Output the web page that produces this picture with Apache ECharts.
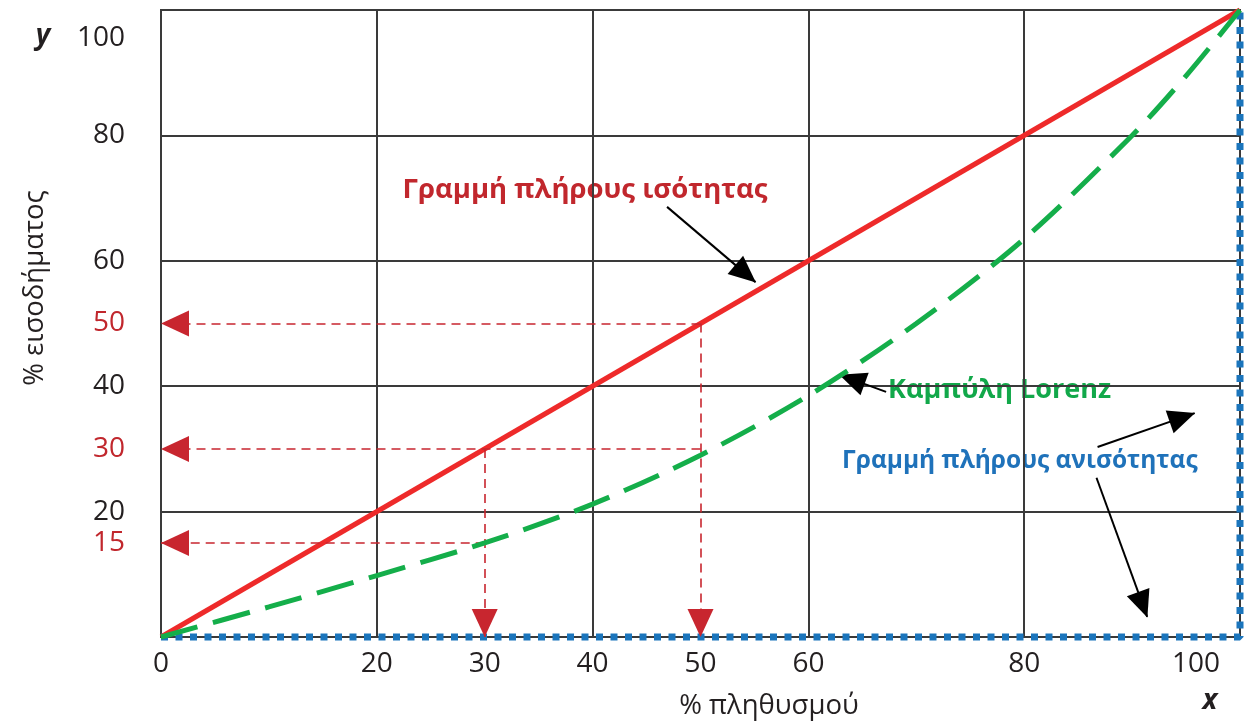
<!DOCTYPE html>
<html><head><meta charset="utf-8">
<script src="https://cdn.jsdelivr.net/npm/echarts@6/dist/echarts.min.js"></script>
<style>html,body{margin:0;padding:0;background:#fff}#c{width:1250px;height:724px}</style>
</head><body><div id="c"></div>
<script>
// ---- data ----
const populationPct   = [0, 10, 20, 30, 40, 50, 60, 70, 80, 90, 95, 100];
const lorenzIncomePct = [0, 4.8, 9.8, 15, 21.2, 29, 38.5, 50, 63.5, 80, 89.5, 100];
const equalityPop     = [0, 100];
const equalityIncome  = [0, 100];
const inequalityPop    = [0, 100, 100];
const inequalityIncome = [0, 0, 100];
const xTickLabels = [0, 20, 30, 40, 50, 60, 80, 100];
const yTickLabels = [15, 20, 30, 40, 50, 60, 80, 100];
const yHighlighted = [15, 30, 50];
const equalityReadings = [[30, 30], [50, 50]];   // [population, income] on equality line
const lorenzReadings   = [[30, 15], [50, 30]];   // [population, income] on Lorenz curve
// pointer arrows (tail -> tip) in data units
const pointerArrows = [
  [[46.9, 68.6], [55.1, 56.6]],
  [[67.2, 39.1], [62.9, 41.8]],
  [[86.8, 30.3], [95.8, 35.7]],
  [[86.7, 25.4], [91.4, 3.2]]
];

const FONT = '"Open Sans", "Noto Sans", sans-serif';
const INK = '#231f20';
const RED_TXT = '#c1272d';

const zip = (a, b) => a.map((v, i) => [v, b[i]]);

const guideLine = {color: '#c8262f', width: 1.6, type: [9, 6]};
const guideArrow = {symbol: 'triangle', symbolSize: [26, 28], symbolOffset: [0, 14]};
const guides = [];
[equalityReadings[1], ...lorenzReadings].forEach(([p, v]) => {
  guides.push([{coord: [p, v], symbol: 'none'}, Object.assign({coord: [0, v]}, guideArrow)]);
});
equalityReadings.forEach(([p, v]) => {
  guides.push([{coord: [p, v], symbol: 'none'}, Object.assign({coord: [p, 0]}, guideArrow)]);
});

const pointers = pointerArrows.map(([a, b]) => [
  {coord: a, symbol: 'none'},
  {coord: b, symbol: 'triangle', symbolSize: [24, 27], symbolOffset: [0, 13]}
]);

const chart = echarts.init(document.getElementById('c'), null, {renderer: 'canvas'});
chart.setOption({
  animation: false,
  backgroundColor: '#fff',
  grid: {
    left: 161, right: 10, top: 10, bottom: 87,
    show: true, borderColor: '#3a3a3a', borderWidth: 2,
    containLabel: false, outerBoundsMode: 'none'
  },
  xAxis: {
    type: 'value', min: 0, max: 100, interval: 20,
    axisLine: {show: false}, axisTick: {show: false},
    splitLine: {show: true, lineStyle: {color: '#3a3a3a', width: 2}},
    axisLabel: {
      customValues: xTickLabels, margin: 13,
      formatter: v => (v === 100 ? '{end|' + v + '}' : '{k|' + v + '}'),
      rich: {
        k: {fontSize: 28, fontFamily: FONT, color: INK},
        end: {fontSize: 28, fontFamily: FONT, color: INK, padding: [0, 88, 0, 0]}
      }
    }
  },
  yAxis: {
    type: 'value', min: 0, max: 100, interval: 20,
    axisLine: {show: false}, axisTick: {show: false},
    splitLine: {show: true, lineStyle: {color: '#3a3a3a', width: 2}},
    axisLabel: {
      customValues: yTickLabels, margin: 36,
      formatter: v => {
        if (v === 100) return '{top|' + v + '}';
        return (yHighlighted.includes(v) ? '{r|' : '{k|') + v + '}';
      },
      rich: {
        k: {fontSize: 28, fontFamily: FONT, color: INK},
        r: {fontSize: 28, fontFamily: FONT, color: RED_TXT},
        top: {fontSize: 28, fontFamily: FONT, color: INK, padding: [56, 0, 0, 0]}
      }
    }
  },
  series: [
    {
      name: 'Γραμμή πλήρους ανισότητας', type: 'line', clip: false, silent: true,
      data: zip(inequalityPop, inequalityIncome), showSymbol: false, symbol: 'none',
      lineStyle: {color: '#1b75bc', width: 7, type: [7, 7.5], cap: 'butt'}, z: 3
    },
    {
      name: 'Γραμμή πλήρους ισότητας', type: 'line', clip: false, silent: true,
      data: zip(equalityPop, equalityIncome), showSymbol: false, symbol: 'none',
      lineStyle: {color: '#ee2a2a', width: 5}, z: 4
    },
    {
      name: 'Καμπύλη Lorenz', type: 'line', clip: false, silent: true, smooth: 0.3,
      data: zip(populationPct, lorenzIncomePct), showSymbol: false, symbol: 'none',
      lineStyle: {color: '#14ae4a', width: 5, type: [38, 16], cap: 'butt'}, z: 5
    },
    {
      name: 'guides', type: 'line', data: [], silent: true, z: 6,
      markLine: {
        silent: true, animation: false, symbol: ['none', 'triangle'],
        label: {show: false}, lineStyle: guideLine,
        itemStyle: {color: '#b81f29'},
        emphasis: {disabled: true},
        data: guides
      }
    },
    {
      name: 'pointers', type: 'line', data: [], silent: true, z: 7,
      markLine: {
        silent: true, animation: false, symbol: ['none', 'triangle'],
        label: {show: false}, lineStyle: {color: '#000', width: 2, type: 'solid'},
        itemStyle: {color: '#000'},
        emphasis: {disabled: true},
        data: pointers
      }
    }
  ],
  graphic: [
    {type: 'text', x: 35, y: 288, rotation: Math.PI / 2,
     style: {text: '% εισοδήματος', font: '27.5px ' + FONT, fill: INK, textAlign: 'center', textVerticalAlign: 'middle'}},
    {type: 'text', x: 769, y: 706,
     style: {text: '% πληθυσμού', font: '27.5px ' + FONT, fill: INK, textAlign: 'center', textVerticalAlign: 'middle'}},
    {type: 'text', x: 43, y: 36,
     style: {text: 'y', font: 'italic bold 28px ' + FONT, fill: INK, textAlign: 'center', textVerticalAlign: 'middle'}},
    {type: 'text', x: 1210, y: 701,
     style: {text: 'x', font: 'italic bold 28px ' + FONT, fill: INK, textAlign: 'center', textVerticalAlign: 'middle'}},
    {type: 'text', x: 585, y: 190,
     style: {text: 'Γραμμή πλήρους ισότητας', font: 'bold 27.5px ' + FONT, fill: RED_TXT, textAlign: 'center', textVerticalAlign: 'middle'}},
    {type: 'text', x: 888, y: 390,
     style: {text: 'Καμπύλη Lorenz', font: 'bold 27px ' + FONT, fill: '#12a84a', textAlign: 'left', textVerticalAlign: 'middle'}},
    {type: 'text', x: 842, y: 461,
     style: {text: 'Γραμμή πλήρους ανισότητας', font: 'bold 24.5px ' + FONT, fill: '#1f72ba', textAlign: 'left', textVerticalAlign: 'middle'}}
  ]
});
</script>
</body></html>
